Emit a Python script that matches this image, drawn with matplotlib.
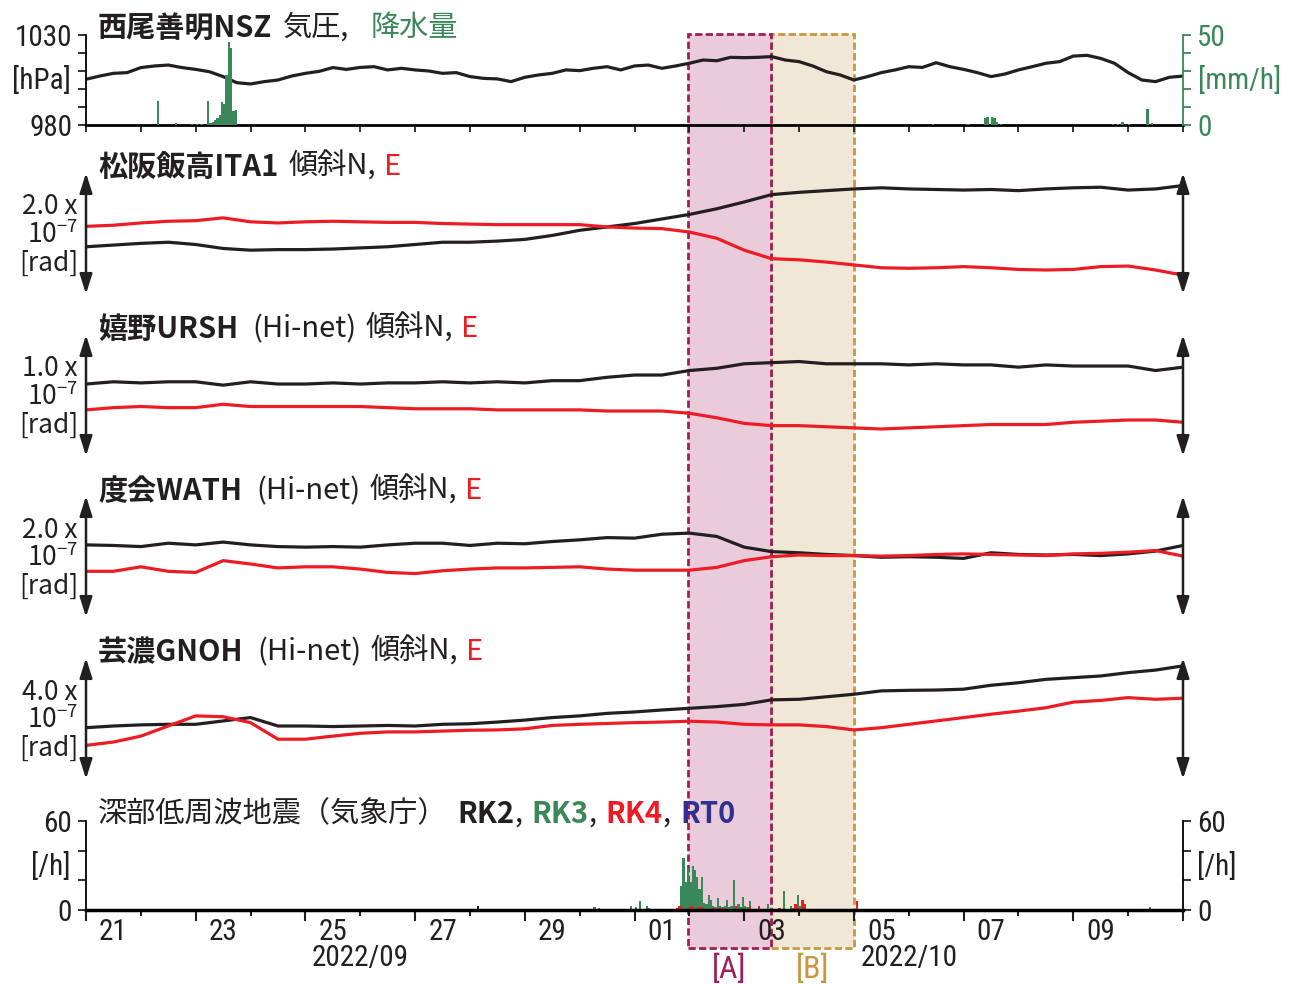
import numpy as np
import matplotlib
matplotlib.use('Agg')
import matplotlib.pyplot as plt
from matplotlib import font_manager as fm
from matplotlib.patches import Rectangle
from matplotlib.transforms import blended_transform_factory

JP = 'Noto Sans CJK JP'
names = {f.name for f in fm.fontManager.ttflist}
NUM = next((n for n in ['Liberation Sans Narrow', 'Roboto Condensed', 'Open Sans Condensed'] if n in names), JP)

plt.rcParams['font.family'] = [NUM, JP, 'DejaVu Sans']
plt.rcParams['mathtext.fontset'] = 'custom'
plt.rcParams['mathtext.rm'] = JP

INK = '#231f20'
RED = '#ed1c24'
GREEN = '#3a875a'
BLUE = '#2e3192'
MAG = '#9e1f5a'
PINK = '#e9cbd9'
GOLD = '#c9973f'
BEIGE = '#f1e7d6'

# ---- data ----
# 気圧 (hPa), 6時間ごと, 2022/09/21 00:00 から
pressure = [1005.4, 1007.2, 1008.7, 1009.1, 1011.9, 1012.8, 1013.3, 1011.9, 1010.9, 1009.6,
            1006.9, 1003.5, 1002.8, 1004.1, 1005.0, 1007.2, 1008.7, 1009.8, 1011.9, 1010.9,
            1012.0, 1012.4, 1010.6, 1011.5, 1010.6, 1010.0, 1008.7, 1009.1, 1006.9, 1005.9,
            1005.6, 1004.1, 1006.5, 1007.8, 1008.7, 1010.6, 1010.2, 1011.5, 1012.4, 1010.6,
            1012.8, 1013.3, 1011.5, 1012.8, 1014.3, 1016.1, 1015.7, 1017.6, 1017.4, 1017.6,
            1018.0, 1016.1, 1015.2, 1012.8, 1009.6, 1007.8, 1005.0, 1006.9, 1009.1, 1010.6,
            1012.4, 1012.0, 1014.6, 1012.4, 1010.9, 1009.1, 1006.9, 1008.3, 1010.6, 1012.4,
            1014.3, 1015.2, 1018.3, 1018.7, 1017.0, 1014.3, 1009.1, 1005.0, 1004.1, 1006.5,
            1007.2]
t_press = np.arange(len(pressure)) * 0.25

# 降水量 (mm/h), 時刻は 09/21 00:00 からの時間
rain_h = [31, 39, 46, 48, 50, 53, 54, 55, 56, 57, 58, 59, 60, 61, 62, 63, 64, 65,
          370, 385, 386, 393, 394, 396, 397, 398, 400, 449, 451, 453, 456, 464, 466]
rain_mm = [13.5, 1.0, 0.5, 0.5, 0.5, 13.3, 1.0, 1.5, 3.0, 4.0, 5.5, 12.7, 11.5, 28.0, 46.0, 43.0, 8.0, 8.3,
           0.3, 0.5, 0.5, 3.9, 4.4, 4.4, 3.9, 1.5, 0.5, 0.5, 0.5, 1.7, 0.5, 8.9, 1.0]

# 傾斜 (x 1e-7 rad), 12時間ごと
ita1_n = [0.81, 0.84, 0.87, 0.89, 0.85, 0.78, 0.75, 0.76, 0.76, 0.77, 0.79, 0.81, 0.85, 0.89, 0.89,
          0.91, 0.94, 1.01, 1.10, 1.16, 1.22, 1.30, 1.38, 1.48, 1.60, 1.73, 1.77, 1.80, 1.83, 1.85,
          1.83, 1.82, 1.81, 1.82, 1.80, 1.83, 1.85, 1.86, 1.81, 1.83, 1.89]
ita1_e = [1.17, 1.19, 1.23, 1.26, 1.27, 1.32, 1.25, 1.23, 1.25, 1.26, 1.25, 1.24, 1.24, 1.22, 1.21,
          1.20, 1.20, 1.20, 1.20, 1.16, 1.14, 1.13, 1.07, 0.96, 0.75, 0.60, 0.58, 0.54, 0.49, 0.44,
          0.43, 0.44, 0.46, 0.44, 0.41, 0.40, 0.41, 0.46, 0.47, 0.40, 0.31]
ursh_n = [0.62, 0.64, 0.63, 0.64, 0.64, 0.61, 0.64, 0.62, 0.62, 0.63, 0.62, 0.63, 0.63, 0.64, 0.63,
          0.64, 0.63, 0.65, 0.65, 0.68, 0.70, 0.70, 0.74, 0.76, 0.80, 0.81, 0.82, 0.80, 0.80, 0.80,
          0.79, 0.80, 0.79, 0.79, 0.77, 0.79, 0.78, 0.78, 0.78, 0.74, 0.77]
ursh_e = [0.39, 0.41, 0.42, 0.41, 0.41, 0.44, 0.42, 0.42, 0.42, 0.42, 0.42, 0.41, 0.40, 0.40, 0.40,
          0.39, 0.39, 0.39, 0.39, 0.38, 0.38, 0.38, 0.36, 0.32, 0.27, 0.25, 0.25, 0.24, 0.23, 0.22,
          0.23, 0.24, 0.25, 0.26, 0.26, 0.26, 0.28, 0.29, 0.30, 0.30, 0.28]
wath_n = [1.26, 1.25, 1.23, 1.29, 1.26, 1.31, 1.26, 1.23, 1.22, 1.23, 1.22, 1.26, 1.29, 1.29, 1.25,
          1.29, 1.28, 1.32, 1.35, 1.39, 1.38, 1.45, 1.47, 1.41, 1.22, 1.14, 1.12, 1.09, 1.07, 1.04,
          1.05, 1.04, 1.02, 1.12, 1.09, 1.08, 1.09, 1.07, 1.10, 1.15, 1.25]
wath_e = [0.79, 0.79, 0.87, 0.79, 0.77, 0.98, 0.92, 0.85, 0.87, 0.87, 0.83, 0.77, 0.75, 0.80, 0.83,
          0.85, 0.85, 0.86, 0.87, 0.83, 0.81, 0.81, 0.81, 0.86, 0.98, 1.05, 1.08, 1.07, 1.07, 1.06,
          1.07, 1.09, 1.10, 1.09, 1.08, 1.07, 1.10, 1.11, 1.13, 1.16, 1.06]
gnoh_n = [1.78, 1.84, 1.88, 1.90, 1.90, 2.02, 2.14, 1.84, 1.84, 1.82, 1.84, 1.86, 1.84, 1.90, 1.92,
          1.98, 2.05, 2.14, 2.20, 2.29, 2.34, 2.41, 2.47, 2.53, 2.61, 2.77, 2.79, 2.88, 2.97, 3.09,
          3.11, 3.12, 3.15, 3.29, 3.38, 3.50, 3.56, 3.62, 3.74, 3.83, 3.98]
gnoh_e = [1.15, 1.27, 1.48, 1.84, 2.20, 2.17, 1.96, 1.37, 1.37, 1.48, 1.58, 1.63, 1.63, 1.66, 1.69,
          1.70, 1.74, 1.86, 1.90, 1.93, 1.96, 1.98, 2.01, 1.98, 1.90, 1.88, 1.88, 1.82, 1.70, 1.78,
          1.90, 2.02, 2.14, 2.26, 2.37, 2.49, 2.69, 2.75, 2.85, 2.79, 2.83]
t_tilt = np.arange(len(ita1_n)) * 0.5

# 深部低周波地震 (回/h)
rk2_h = [171, 461]
rk2_n = [2.7, 0.7]
rk3_h = [85, 222, 224, 229, 230, 233, 238, 240, 242, 245, 246, 255, 260, 261, 262, 263, 264, 265,
         266, 267, 268, 269, 270, 271, 272, 273, 274, 275, 276, 277, 278, 279, 280, 281, 282, 283,
         284, 285, 286, 287, 288, 289, 290, 291, 293, 298, 305, 306, 308, 309, 311, 312, 313, 323,
         329, 332, 465]
rk3_n = [0.7, 2.2, 1.1, 0.7, 0.7, 0.7, 2.7, 1.8, 6.0, 2.7, 1.1, 0.5, 16, 35, 19, 28, 19, 30,
         27, 22, 14, 22, 5, 4, 10, 7, 3, 2, 8, 3, 2, 3, 7, 2, 3, 20,
         2, 4, 2, 8.5, 3, 2, 6, 1, 1, 4, 12.8, 1, 2.7, 1.5, 10, 3, 1.5, 0.7,
         0.7, 0.7, 2.2]
rk4_h = [100, 227, 258, 259, 260, 264, 265, 266, 268, 269, 270, 274, 275, 277, 278, 284, 287, 290,
         294, 303, 310, 311, 313, 314, 317, 330, 337, 338, 436]
rk4_n = [0.7, 0.7, 1.5, 2.7, 2.7, 2.7, 2.7, 1.0, 2.2, 2.2, 1.6, 1.6, 1.6, 1.6, 1.6, 2.7, 0.5, 2.7,
         2.7, 1.6, 3.8, 1.5, 6.7, 4.0, 0.5, 0.5, 6.0, 0.7, 0.7]

day_labels = ['21', '23', '25', '27', '29', '01', '03', '05', '07', '09']
span_a = (10.98, 12.48)
span_b = (12.48, 14.0)

# ---- layout helpers (pixel -> figure fraction) ----
W_PX, H_PX = 1300, 984
def fx(px):
    return px / W_PX
def fy(py):
    return 1 - py / H_PX

fig = plt.figure(figsize=(13, 9.84), dpi=100)
L, WID = fx(86), 1097 / W_PX

def clean(ax):
    ax.set_facecolor('none')
    ax.set_xlim(0, 20)

# 気圧・降水量
ax_p = fig.add_axes([L, fy(125), WID, 90 / H_PX])
clean(ax_p)
ax_p.plot(t_press, pressure, color=INK, lw=2.3)
ax_p.set_ylim(980, 1030)
ax_p.set_yticks([980, 1030])
ax_p.set_yticks([990, 1000, 1010, 1020], minor=True)
ax_p.set_xticks(np.arange(0, 21))
ax_p.tick_params(axis='x', length=5, width=1.3, labelbottom=False, color=INK)
ax_p.tick_params(axis='y', which='both', length=6, width=1.3, labelsize=21, pad=4, colors=INK)
for s in ['top', 'right']:
    ax_p.spines[s].set_visible(False)
ax_p.spines['bottom'].set_linewidth(2)
ax_p.spines['left'].set_linewidth(1.3)

ax_r = ax_p.twinx()
ax_r.set_xlim(0, 20)
ax_r.bar(np.array(rain_h) / 24, rain_mm, width=1 / 24, align='edge', color=GREEN, lw=0)
ax_r.set_ylim(0, 50)
ax_r.set_yticks([0, 50])
ax_r.set_yticks([10, 20, 30, 40], minor=True)
ax_r.tick_params(axis='y', which='both', length=6, width=1.3, labelsize=21, pad=4, colors=GREEN)
for s in ['top', 'left', 'bottom']:
    ax_r.spines[s].set_visible(False)
ax_r.spines['right'].set_color(GREEN)
ax_r.spines['right'].set_linewidth(1.3)

fig.text(fx(41), fy(80), '[hPa]', ha='center', va='center', fontsize=21, color=INK)
fig.text(fx(1240), fy(80), '[mm/h]', ha='center', va='center', fontsize=21, color=GREEN)

# 傾斜パネル
tilt = [
    (ita1_n, ita1_e, 173, (-0.023, 2.111), '2.0 x'),
    (ursh_n, ursh_e, 335, (-0.020, 1.056), '1.0 x'),
    (wath_n, wath_e, 496, (-0.023, 2.130), '2.0 x'),
    (gnoh_n, gnoh_e, 658, (-0.046, 4.260), '4.0 x'),
]
for n_vals, e_vals, top, ylim, scale in tilt:
    ax = fig.add_axes([L, fy(top + 121), WID, 121 / H_PX])
    clean(ax)
    ax.plot(t_tilt, n_vals, color=INK, lw=2.3)
    ax.plot(t_tilt, e_vals, color=RED, lw=2.3)
    ax.set_ylim(*ylim)
    ax.axis('off')
    for xa in (0, 1):
        ax.annotate('', xy=(xa, 1), xytext=(xa, 0), xycoords='axes fraction',
                    arrowprops=dict(arrowstyle='<|-|>,head_length=0.6,head_width=0.19',
                                    color=INK, lw=1.8, shrinkA=0, shrinkB=0,
                                    mutation_scale=20), annotation_clip=False)
    fig.text(fx(78), fy(top + 34), scale, ha='right', va='center', fontsize=19,
             family=[JP], color=INK)
    fig.text(fx(78), fy(top + 62), r'10$^{\mathrm{-7}}$', ha='right', va='center',
             fontsize=19, family=[JP], color=INK)
    fig.text(fx(78), fy(top + 90), '[rad]', ha='right', va='center', fontsize=19,
             family=[JP], color=INK)

# 深部低周波地震
ax_t = fig.add_axes([L, fy(910), WID, 89 / H_PX])
clean(ax_t)
ax_t.bar(np.array(rk3_h) / 24, rk3_n, width=1 / 24, align='edge', color=GREEN, lw=0)
ax_t.bar(np.array(rk4_h) / 24, rk4_n, width=1 / 24, align='edge', color=RED, lw=0)
ax_t.bar(np.array(rk2_h) / 24, rk2_n, width=1 / 24, align='edge', color=INK, lw=0)
ax_t.set_ylim(0, 60)
ax_t.set_yticks([0, 60])
ax_t.set_yticks([20, 40], minor=True)
ax_t.yaxis.set_ticks_position('both')
ax_t.tick_params(axis='y', which='both', length=6, width=1.3, labelsize=21, pad=4,
                 colors=INK, labelright=True)
ax_t.set_xticks(np.arange(0, 21, 2))
ax_t.set_xticks(np.arange(1, 20, 2), minor=True)
ax_t.tick_params(axis='x', which='major', length=8, width=1.5, labelbottom=False, color=INK)
ax_t.tick_params(axis='x', which='minor', length=4, width=1.5, color=INK)
ax_t.spines['top'].set_visible(False)
ax_t.spines['bottom'].set_linewidth(2.5)
ax_t.spines['left'].set_linewidth(1.3)
ax_t.spines['right'].set_linewidth(1.3)

fig.text(fx(51), fy(866), '[/h]', ha='center', va='center', fontsize=21, color=INK)
fig.text(fx(1217), fy(866), '[/h]', ha='center', va='center', fontsize=21, color=INK)

tr = blended_transform_factory(ax_t.transData, fig.transFigure)
for i, lab in enumerate(day_labels):
    fig.text(2 * i + 0.5, fy(932), lab, transform=tr, ha='center', va='center',
             fontsize=21, color=INK)
fig.text(5, fy(958), '2022/09', transform=tr, ha='center', va='center', fontsize=21, color=INK)
fig.text(15, fy(958), '2022/10', transform=tr, ha='center', va='center', fontsize=21, color=INK)

# 期間 [A] [B]
for (x0, x1), fc, ec in [(span_b, BEIGE, GOLD), (span_a, PINK, MAG)]:
    rect = Rectangle((x0, fy(948)), x1 - x0, (948 - 34) / H_PX, transform=tr,
                     facecolor=fc, edgecolor=ec, lw=2, ls=(0, (2.6, 1.2)), zorder=-1)
    fig.add_artist(rect)
fig.text(sum(span_a) / 2, fy(969), '[A]', transform=tr, ha='center', va='center',
         fontsize=23, color=MAG)
fig.text(sum(span_b) / 2, fy(969), '[B]', transform=tr, ha='center', va='center',
         fontsize=23, color=GOLD)

# タイトル (複数色)  parts: (文字, 色, 太字, 前の隙間px)
fig.canvas.draw()
rend = fig.canvas.get_renderer()

def put_title(y_px, parts, size=21):
    x = fx(98)
    for s, c, bold, gap in parts:
        x += fx(gap)
        t = fig.text(x, fy(y_px), s, color=c, fontsize=size, family=[JP, 'DejaVu Sans'],
                     fontweight='bold' if bold else 'normal', ha='left', va='center')
        x += t.get_window_extent(rend).width / fig.bbox.width

put_title(28, [('西尾善明NSZ', INK, True, 0), ('気圧,', INK, False, 11),
               ('降水量', GREEN, False, 21)])
put_title(167, [('松阪飯高ITA1', INK, True, 0), ('傾斜N,', INK, False, 10),
                ('E', RED, False, 8)])
for yy, name in [(329, '嬉野URSH'), (491, '度会WATH'), (652, '芸濃GNOH')]:
    put_title(yy, [(name, INK, True, 0), ('(Hi-net)', INK, False, 14),
                   ('傾斜N,', INK, False, 9), ('E', RED, False, 8)])
put_title(814, [('深部低周波地震（気象庁）', INK, False, 0), ('RK2', INK, True, 10),
                (',', INK, False, 0), ('RK3', GREEN, True, 9), (',', INK, False, 0),
                ('RK4', RED, True, 9), (',', INK, False, 0), ('RT0', BLUE, True, 9)])

fig.savefig('out.png', dpi=100)
